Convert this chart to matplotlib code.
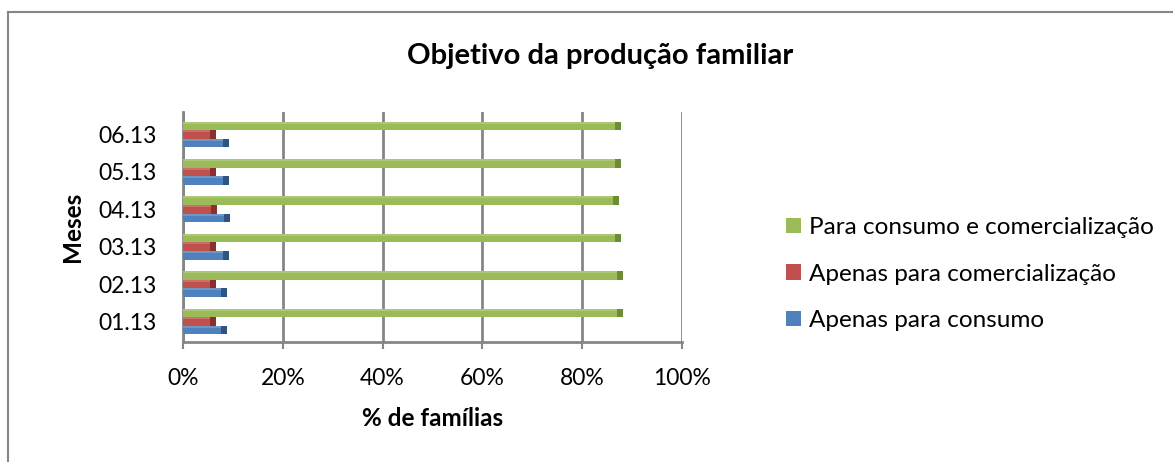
import matplotlib
matplotlib.use("Agg")
import matplotlib.pyplot as plt
from matplotlib.patches import Patch
from matplotlib.lines import Line2D

months = ["01.13", "02.13", "03.13", "04.13", "05.13", "06.13"]
apenas_consumo = [7.6, 7.6, 8.0, 8.2, 8.0, 8.0]
apenas_comercializacao = [5.4, 5.4, 5.4, 5.6, 5.4, 5.4]
consumo_e_comercializacao = [87.0, 87.0, 86.6, 86.2, 86.6, 86.6]
x_ticks = [0, 20, 40, 60, 80, 100]
x_tick_labels = ["0%", "20%", "40%", "60%", "80%", "100%"]

series_labels = ["Apenas para consumo", "Apenas para comercialização",
                 "Para consumo e comercialização"]
face_colors = ["#4F81BD", "#C0504D", "#9BBB59"]
side_colors = ["#2F5383", "#8C2E2C", "#6E8B36"]

plt.rcParams['font.family'] = ['Lato', 'DejaVu Sans']

W, H = 1173, 462
fig = plt.figure(figsize=(W / 100, H / 100), dpi=100)

def fx(px):
    return px / W

def fy(py):
    return 1 - py / H

# outer chart border (left and top visible)
fig.add_artist(Line2D([fx(7.5), fx(7.5)], [fy(12), fy(470)], color="#868686", lw=1.5))
fig.add_artist(Line2D([fx(7.5), fx(1180)], [fy(12), fy(12)], color="#868686", lw=1.5))

left_px, right_px, top_px, bot_px = 183, 682, 112, 342
ax = fig.add_axes([fx(left_px), fy(bot_px), fx(right_px - left_px), (bot_px - top_px) / H])

y = list(range(len(months)))
h = 0.23
offsets = [-0.23, 0.0, 0.23]
data = [apenas_consumo, apenas_comercializacao, consumo_e_comercializacao]
side = 1.2
for vals, off, fc, sc, lab in zip(data, offsets, face_colors, side_colors, series_labels):
    yy = [v + off for v in y]
    ax.barh(yy, vals, height=h, color=fc, label=lab, zorder=3)
    ax.barh(yy, [side] * len(vals), left=vals, height=h, color=sc, zorder=3)
    ax.barh([v + h * 0.38 for v in yy], vals, height=h * 0.22, color="white", alpha=0.18, zorder=4)

ax.set_xlim(0, 100)
ax.set_ylim(-0.55, 5.6)
ax.set_xticks(x_ticks)
ax.set_xticklabels(x_tick_labels, fontsize=16.5)
ax.set_yticks(y)
ax.set_yticklabels(months, fontsize=16.5)
ax.grid(axis="x", color="#868686", lw=2, zorder=0)
ax.tick_params(axis="x", length=5, width=1.5, color="#868686", pad=14)
ax.tick_params(axis="y", length=0, pad=19)
for s in ["top", "right"]:
    ax.spines[s].set_visible(False)
for s in ["left", "bottom"]:
    ax.spines[s].set_color("#868686")
    ax.spines[s].set_linewidth(2)

ax.set_xlabel("% de famílias", fontsize=17.5, fontweight="bold", labelpad=13)
ax.set_ylabel("Meses", fontsize=17.5, fontweight="bold", labelpad=10)

fig.text(fx(600), fy(56), "Objetivo da produção familiar", fontsize=21,
         fontweight="bold", ha="center", va="center")

handles = [Patch(facecolor=face_colors[i]) for i in [2, 1, 0]]
labels = [series_labels[i] for i in [2, 1, 0]]
fig.legend(handles, labels, loc="upper left", bbox_to_anchor=(fx(774), fy(205)),
           frameon=False, fontsize=17.5, handlelength=0.6, handleheight=0.6,
           handletextpad=0.35, labelspacing=1.05, borderpad=0)

fig.savefig("out.png", dpi=100, facecolor="white")
